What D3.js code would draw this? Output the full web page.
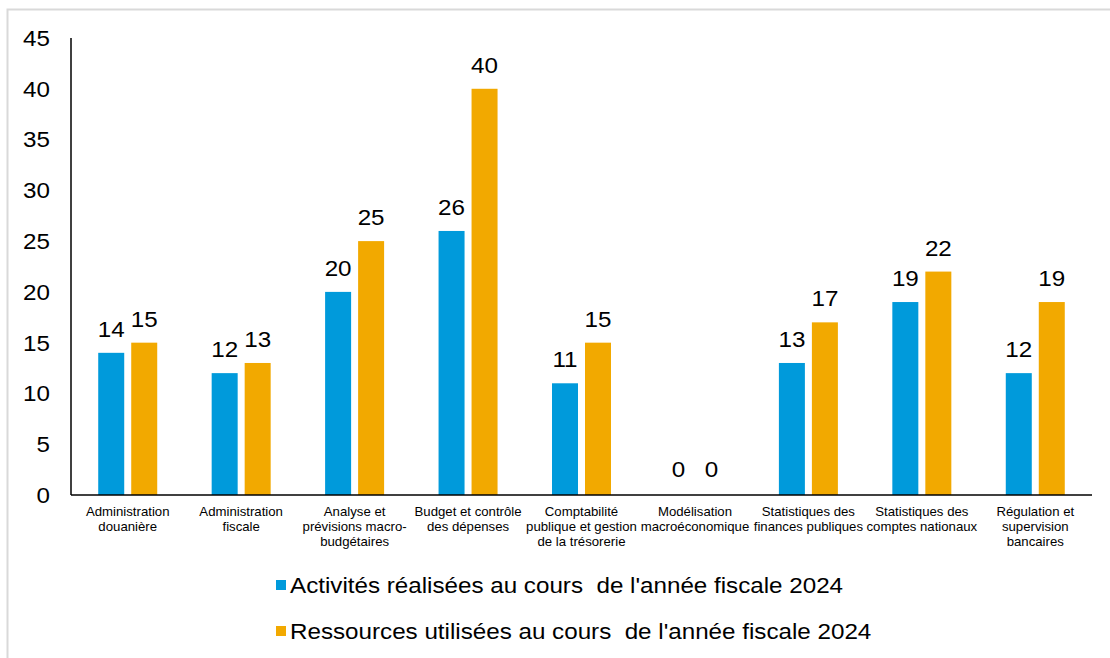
<!DOCTYPE html>
<html>
<head>
<meta charset="utf-8">
<script src="https://cdn.jsdelivr.net/npm/d3@7"></script>
<style>
  body { margin: 0; background: #fff; font-family: "Liberation Sans", Arial, sans-serif; }
  svg text { fill: #000; }
</style>
</head>
<body>
<svg id="chart" width="1110" height="658"></svg>
<script>
// categories and values
var categories = [
  ["Administration", "douanière"],
  ["Administration", "fiscale"],
  ["Analyse et", "prévisions macro-", "budgétaires"],
  ["Budget et contrôle", "des dépenses"],
  ["Comptabilité", "publique et gestion", "de la trésorerie"],
  ["Modélisation", "macroéconomique"],
  ["Statistiques des", "finances publiques"],
  ["Statistiques des", "comptes nationaux"],
  ["Régulation et", "supervision", "bancaires"]
];
var activites = [14, 12, 20, 26, 11, 0, 13, 19, 12];
var ressources = [15, 13, 25, 40, 15, 0, 17, 22, 19];
var seriesNames = [
  "Activités réalisées au cours  de l'année fiscale 2024",
  "Ressources utilisées au cours  de l'année fiscale 2024"
];
var yTicks = [0, 5, 10, 15, 20, 25, 30, 35, 40, 45];

var colors = ["#009ADB", "#F2A900"];
var stretch = 1.1; // the source text is a little wider than Arial

function place(px, py) {
  return "translate(" + px + "," + py + ") scale(" + stretch + ",1)";
}

var svg = d3.select("#chart");

// outer frame
svg.append("rect")
  .attr("x", 7.5).attr("y", 9.5)
  .attr("width", 1110).attr("height", 660)
  .attr("fill", "none")
  .attr("stroke", "#d9d9d9")
  .attr("stroke-width", 2);

var plotLeft = 71, plotRight = 1092, plotTop = 38, plotBottom = 495;

var x = d3.scaleBand()
  .domain(d3.range(categories.length))
  .range([plotLeft, plotRight]);

var y = d3.scaleLinear()
  .domain([0, 45])
  .range([plotBottom, plotTop]);

var barW = 26, gap = 7;

// y axis labels
svg.append("g")
  .selectAll("text")
  .data(yTicks)
  .join("text")
  .attr("transform", function (d) { return place(plotLeft - 21, y(d)); })
  .attr("dy", "0.36em")
  .attr("text-anchor", "end")
  .style("font-size", "22px")
  .text(function (d) { return d; });

// bars + value labels
var data = [activites, ressources];
data.forEach(function (vals, s) {
  var off = s === 0 ? -(barW + gap / 2) : gap / 2;
  svg.append("g")
    .selectAll("rect")
    .data(vals)
    .join("rect")
    .attr("x", function (d, i) { return x(i) + x.bandwidth() / 2 + off; })
    .attr("y", function (d) { return y(d); })
    .attr("width", barW)
    .attr("height", function (d) { return plotBottom - y(d); })
    .attr("fill", colors[s]);

  svg.append("g")
    .selectAll("text")
    .data(vals)
    .join("text")
    .attr("transform", function (d, i) {
      return place(x(i) + x.bandwidth() / 2 + off + barW / 2, y(d) - (d === 0 ? 18 : 16));
    })
    .attr("text-anchor", "middle")
    .style("font-size", "22px")
    .text(function (d) { return d; });
});

// axis lines
svg.append("line")
  .attr("x1", plotLeft).attr("x2", plotLeft)
  .attr("y1", plotTop).attr("y2", plotBottom)
  .attr("stroke", "#000").attr("stroke-width", 1.5);
svg.append("line")
  .attr("x1", plotLeft).attr("x2", plotRight)
  .attr("y1", plotBottom).attr("y2", plotBottom)
  .attr("stroke", "#000").attr("stroke-width", 1.5);

// category labels
var catG = svg.append("g")
  .selectAll("text")
  .data(categories)
  .join("text")
  .attr("transform", function (d, i) { return place(x(i) + x.bandwidth() / 2, 516); })
  .attr("text-anchor", "middle")
  .style("font-size", "12px");
catG.selectAll("tspan")
  .data(function (d) { return d; })
  .join("tspan")
  .attr("x", 0)
  .attr("dy", function (d, i) { return i === 0 ? 0 : 15; })
  .text(function (d) { return d; });

// legend
var legend = svg.append("g")
  .selectAll("g")
  .data(seriesNames)
  .join("g")
  .attr("transform", function (d, i) { return "translate(276," + (585 + i * 46) + ")"; });
legend.append("rect")
  .attr("x", 0).attr("y", -5)
  .attr("width", 10).attr("height", 10)
  .attr("fill", function (d, i) { return colors[i]; });
legend.append("text")
  .attr("transform", place(14, 0))
  .attr("dy", "0.36em")
  .style("font-size", "22px")
  .style("white-space", "pre")
  .text(function (d) { return d; });
</script>
</body>
</html>
